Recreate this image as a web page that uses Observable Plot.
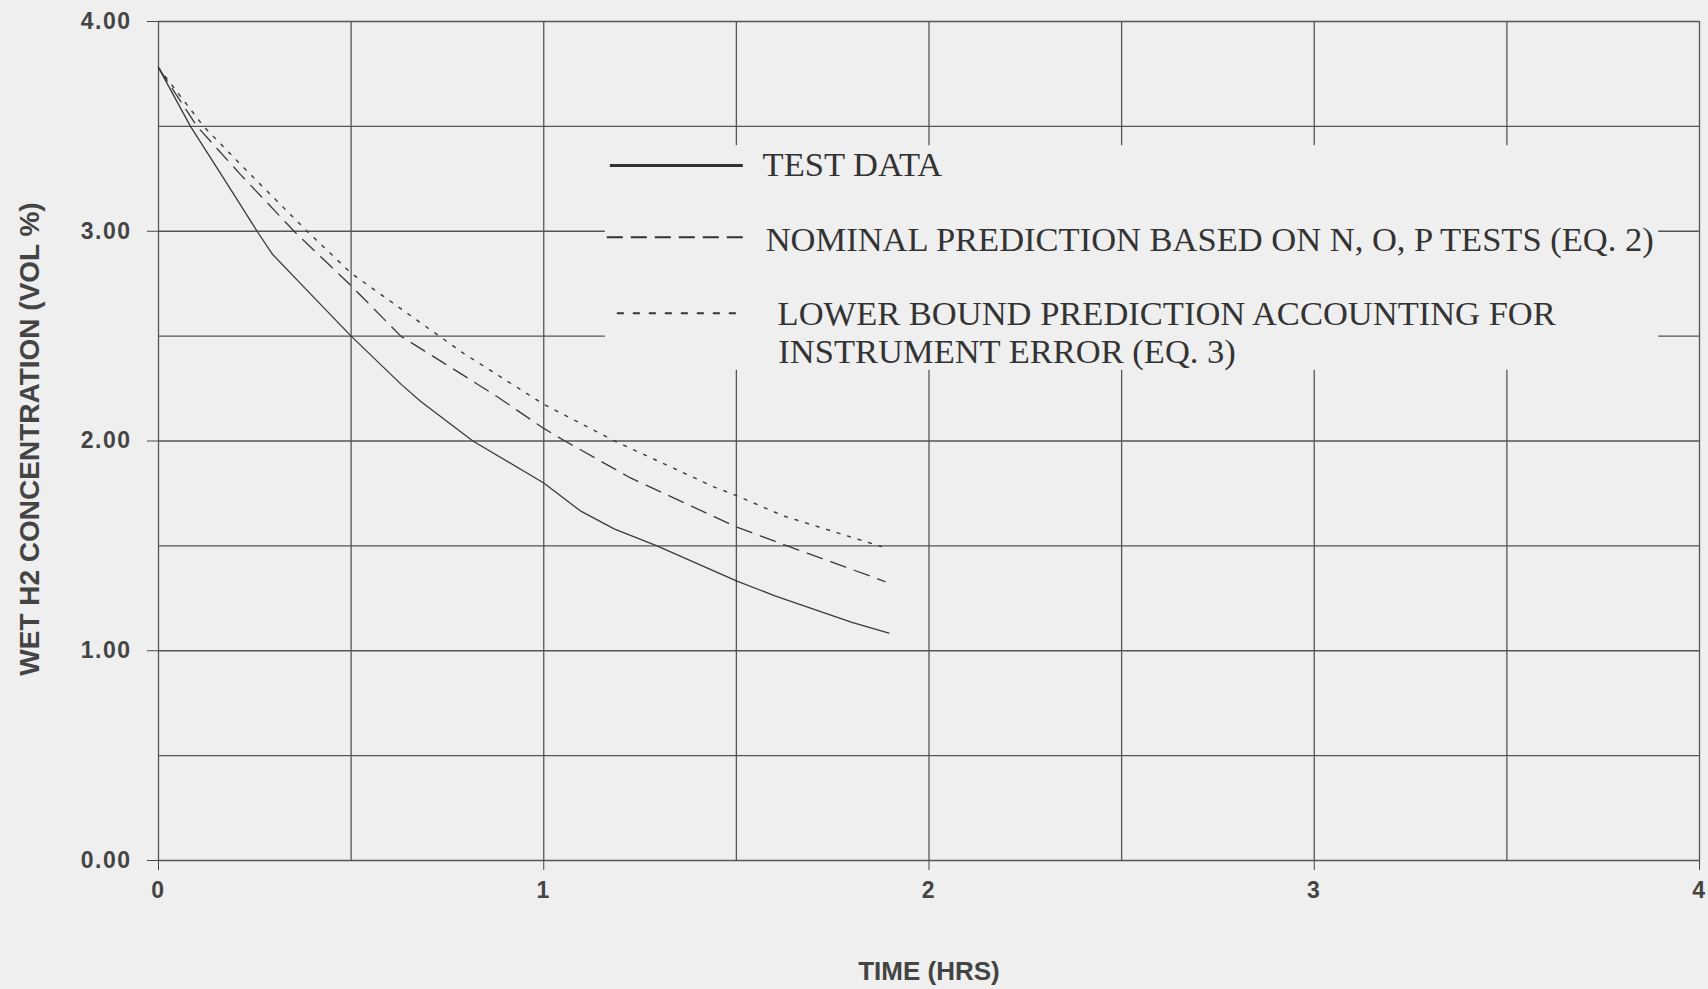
<!DOCTYPE html>
<html>
<head>
<meta charset="utf-8">
<script src="https://cdn.jsdelivr.net/npm/d3@7"></script>
<script src="https://cdn.jsdelivr.net/npm/@observablehq/plot@0.6"></script>
<style>
  html, body { margin: 0; padding: 0; background: #efefef; }
  #chart svg g[aria-label$="tick label"] text { letter-spacing: 1.5px; }
</style>
</head>
<body>
<div id="chart"></div>
<script>
// ---- data ----
const testTime = [0, 0.083, 0.17, 0.256, 0.296, 0.39, 0.5, 0.63, 0.68, 0.816, 1.0, 1.095, 1.184, 1.294, 1.5, 1.6, 1.8, 1.896];
const testConc = [3.78, 3.5, 3.25, 3.0, 2.89, 2.71, 2.5, 2.27, 2.19, 2.0, 1.80, 1.667, 1.58, 1.5, 1.333, 1.262, 1.135, 1.084];

const nominalTime = [0, 0.1, 0.213, 0.352, 0.5, 0.629, 0.716, 0.872, 1.0, 1.055, 1.224, 1.5, 1.632, 1.886];
const nominalConc = [3.78, 3.5, 3.27, 3.0, 2.74, 2.5, 2.40, 2.22, 2.06, 2.0, 1.825, 1.59, 1.5, 1.33];

const lowerTime = [0, 0.117, 0.239, 0.386, 0.5, 0.729, 0.79, 1.0, 1.184, 1.443, 1.5, 1.622, 1.876];
const lowerConc = [3.78, 3.5, 3.27, 3.0, 2.80, 2.5, 2.42, 2.175, 2.0, 1.78, 1.74, 1.643, 1.497];

const xTicks = [0, 1, 2, 3, 4];
const yTicks = [0, 1, 2, 3, 4];
const gridValues = [0, 0.5, 1, 1.5, 2, 2.5, 3, 3.5, 4];

const xTitle = "TIME (HRS)";
const yTitle = "WET H2 CONCENTRATION (VOL %)";
const legendLabels = [
  "TEST DATA",
  "NOMINAL PREDICTION BASED ON N, O, P TESTS (EQ. 2)",
  "LOWER BOUND PREDICTION ACCOUNTING FOR",
  "INSTRUMENT ERROR (EQ. 3)"
];

// ---- legend layout (data units) ----
const legendBox = {x1: 1.16, x2: 3.894, y1: 2.337, y2: 3.408};
const legendTextX = [1.568, 1.576, 1.607, 1.609];
const legendTextY = [3.318, 2.960, 2.604, 2.423];
const sampleX2 = 1.518;
const sampleSolid = {x1: 1.173, y: 3.314};
const sampleDashed = {x1: 1.165, y: 2.971};
const sampleDotted = {x1: 1.191, y: 2.609};

const bg = "#efefef";
const ink = "#3a3a3a";
const gridInk = "#555";

const toRows = (t, c) => t.map((d, i) => ({t: d, v: c[i]}));
const testRows = toRows(testTime, testConc);
const nominalRows = toRows(nominalTime, nominalConc);
const lowerRows = toRows(lowerTime, lowerConc);
const legendRows = legendLabels.map((s, i) => ({s, x: legendTextX[i], y: legendTextY[i]}));

const plot = Plot.plot({
  width: 1708,
  height: 989,
  marginTop: 21,
  marginLeft: 158,
  marginRight: 9,
  marginBottom: 129,
  style: {background: bg, color: "#444", fontSize: "23px", fontFamily: "'Liberation Sans', Arial, sans-serif", fontWeight: "bold", overflow: "visible"},
  x: {domain: [0, 4], ticks: xTicks, tickFormat: d3.format("d"), tickSize: 10, tickPadding: 11, label: null},
  y: {domain: [0, 4], ticks: yTicks, tickFormat: d3.format(".2f"), tickSize: 11, tickPadding: 16, label: null},
  marks: [
    Plot.ruleX(gridValues, {stroke: gridInk, strokeWidth: 1.3}),
    Plot.ruleY(gridValues, {stroke: gridInk, strokeWidth: 1.3}),
    Plot.rect([legendBox], {x1: "x1", x2: "x2", y1: "y1", y2: "y2", fill: bg}),
    Plot.line(lowerRows, {x: "t", y: "v", stroke: ink, strokeWidth: 1.4, strokeDasharray: "3,8"}),
    Plot.line(nominalRows, {x: "t", y: "v", stroke: ink, strokeWidth: 1.3, strokeDasharray: "16,9"}),
    Plot.line(testRows, {x: "t", y: "v", stroke: ink, strokeWidth: 1.3}),
    Plot.ruleY([sampleSolid], {y: "y", x1: "x1", x2: () => sampleX2, stroke: "#333", strokeWidth: 3}),
    Plot.ruleY([sampleDashed], {y: "y", x1: "x1", x2: () => sampleX2, stroke: "#333", strokeWidth: 2, strokeDasharray: "16,8"}),
    Plot.ruleY([sampleDotted], {y: "y", x1: "x1", x2: () => sampleX2, stroke: "#333", strokeWidth: 2, strokeDasharray: "7,9"}),
    Plot.text(legendRows, {x: "x", y: "y", text: "s", textAnchor: "start", lineAnchor: "middle",
      fontFamily: "'Liberation Serif', 'Times New Roman', serif", fontSize: 34.5, fontWeight: "normal", fill: "#333"}),
    Plot.text([xTitle], {frameAnchor: "bottom", dy: 111, text: d => d, textAnchor: "middle", lineAnchor: "middle",
      fontSize: 26, fontWeight: "bold", fill: "#444"}),
    Plot.text([yTitle], {frameAnchor: "left", dx: -128, dy: -2, rotate: -90, text: d => d, textAnchor: "middle", lineAnchor: "middle",
      fontSize: 28, fontWeight: "bold", fill: "#444"})
  ]
});
document.getElementById("chart").appendChild(plot);
</script>
</body>
</html>
